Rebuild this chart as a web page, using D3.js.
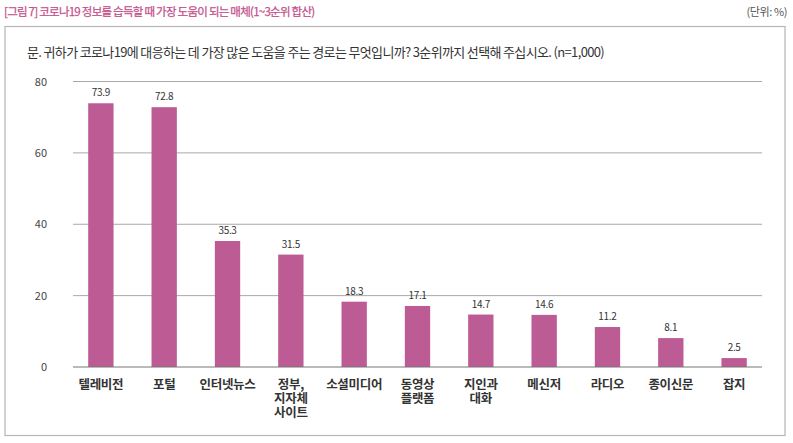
<!DOCTYPE html>
<html>
<head>
<meta charset="utf-8">
<script src="https://cdn.jsdelivr.net/npm/d3@7"></script>
<style>
  body { margin: 0; background: #fff; }
  text { font-family: "Noto Sans CJK KR", "Noto Sans", sans-serif; }
</style>
</head>
<body>
<script>
// chart data
var categories = ["텔레비전", "포털", "인터넷뉴스", "정부,|지자체|사이트", "소셜미디어", "동영상|플랫폼", "지인과|대화", "메신저", "라디오", "종이신문", "잡지"];
var values = [73.9, 72.8, 35.3, 31.5, 18.3, 17.1, 14.7, 14.6, 11.2, 8.1, 2.5];
var yTicks = [0, 20, 40, 60, 80];

var svgWidth = 793;
var svgHeight = 443;

var svg = d3.select("body")
  .append("svg")
  .attr("width", svgWidth)
  .attr("height", svgHeight);

// header
svg.append("text")
  .attr("x", 4)
  .attr("y", 16)
  .attr("font-size", 11.5)
  .attr("letter-spacing", -0.75)
  .attr("fill", "#c4508c")
  .attr("stroke", "#c4508c")
  .attr("stroke-width", 0.25)
  .text("[그림 7] 코로나19 정보를 습득할 때 가장 도움이 되는 매체(1~3순위 합산)");

svg.append("text")
  .attr("x", 787)
  .attr("y", 16)
  .attr("text-anchor", "end")
  .attr("font-size", 11)
  .attr("letter-spacing", -0.4)
  .attr("fill", "#555")
  .text("(단위: %)");

// outer box
svg.append("rect")
  .attr("x", 5)
  .attr("y", 26.5)
  .attr("width", 780)
  .attr("height", 409)
  .attr("fill", "none")
  .attr("stroke", "#b5b5b5")
  .attr("stroke-width", 1.2);

svg.append("text")
  .attr("x", 27)
  .attr("y", 57)
  .attr("font-size", 13)
  .attr("letter-spacing", -0.65)
  .attr("fill", "#333")
  .text("문. 귀하가 코로나19에 대응하는 데 가장 많은 도움을 주는 경로는 무엇입니까? 3순위까지 선택해 주십시오. (n=1,000)");

// scales
var x = d3.scaleBand()
  .domain(categories)
  .range([73, 762])
  .paddingInner(0.6)
  .paddingOuter(0.24);

var y = d3.scaleLinear()
  .domain([0, 80])
  .range([367, 81.5]);

// gridlines
svg.append("g")
  .selectAll("line")
  .data(yTicks.filter(d => d > 0))
  .enter()
  .append("line")
  .attr("x1", 73)
  .attr("x2", 762)
  .attr("y1", d => y(d))
  .attr("y2", d => y(d))
  .attr("stroke", "#a8a8a8")
  .attr("stroke-width", 1);

// y tick labels
svg.append("g")
  .selectAll("text")
  .data(yTicks)
  .enter()
  .append("text")
  .attr("x", 47)
  .attr("y", d => y(d) + 4)
  .attr("text-anchor", "end")
  .attr("font-size", 11)
  .attr("fill", "#444")
  .text(d => d);

// bars
svg.append("g")
  .selectAll("rect")
  .data(values)
  .enter()
  .append("rect")
  .attr("x", (d, i) => x(categories[i]))
  .attr("y", d => y(d))
  .attr("width", x.bandwidth())
  .attr("height", d => y(0) - y(d))
  .attr("fill", "#bd5b95");

// value labels
svg.append("g")
  .selectAll("text")
  .data(values)
  .enter()
  .append("text")
  .attr("x", (d, i) => x(categories[i]) + x.bandwidth() / 2)
  .attr("y", d => y(d) - 7)
  .attr("text-anchor", "middle")
  .attr("font-size", 10)
  .attr("letter-spacing", -0.3)
  .attr("fill", "#333")
  .text(d => d.toFixed(1));

// baseline
svg.append("line")
  .attr("x1", 73)
  .attr("x2", 762)
  .attr("y1", y(0))
  .attr("y2", y(0))
  .attr("stroke", "#777")
  .attr("stroke-width", 1.2);

// category labels, one text per line
var labelLines = [];
categories.forEach(function(c) {
  c.split("|").forEach(function(line, i) {
    labelLines.push({ cat: c, line: line, row: i });
  });
});

svg.append("g")
  .selectAll("text")
  .data(labelLines)
  .enter()
  .append("text")
  .attr("x", d => x(d.cat) + x.bandwidth() / 2)
  .attr("y", d => 389 + d.row * 14)
  .attr("text-anchor", "middle")
  .attr("font-size", 12.5)
  .attr("font-weight", "bold")
  .attr("letter-spacing", -0.3)
  .attr("fill", "#333")
  .text(d => d.line);
</script>
</body>
</html>
